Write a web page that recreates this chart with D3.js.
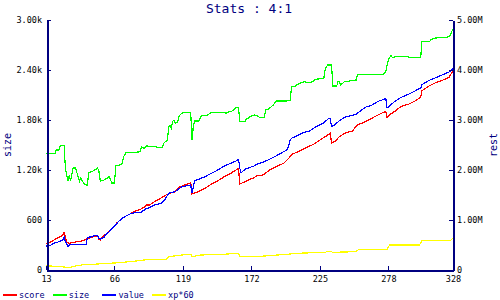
<!DOCTYPE html>
<html>
<head>
<meta charset="utf-8">
<script src="https://cdn.jsdelivr.net/npm/d3@7"></script>
<style>
body { margin: 0; background: #fff; }
text { font-family: "DejaVu Sans Mono", monospace; }
</style>
</head>
<body>
<svg id="chart" width="500" height="300"></svg>
<script>

var title = "Stats : 4:1";
var xTicks = [13, 66, 119, 172, 225, 278, 328];
var leftTicks = [0, 600, 1200, 1800, 2400, 3000];
var rightTicks = [0, 1e6, 2e6, 3e6, 4e6, 5e6];
var seriesNames = ["score", "size", "value", "xp*60"];
var seriesColors = ["#ff0000", "#00ff00", "#0000ff", "#ffff00"];

// size (left axis)
var sizePts = [[13,1400],[20,1400],[21,1440],[23,1440],[24,1492],[27,1492],[28,1224],[29,1140],[30,1068],[31,1140],[32,1068],[34,1224],[36,1224],[37,1164],[39,1068],[40,1104],[42,1044],[44,1020],[45,1020],[46,1168],[48,1180],[50,1192],[53,1224],[54,1180],[55,1068],[58,1080],[60,1100],[62,1120],[63,1080],[64,1044],[66,1044],[67,1248],[70,1260],[72,1280],[73,1360],[75,1408],[81,1408],[86,1420],[87,1480],[89,1460],[91,1488],[98,1480],[99,1468],[103,1468],[104,1520],[107,1560],[108,1720],[109,1740],[110,1700],[111,1780],[112,1800],[113,1760],[115,1780],[116,1848],[118,1880],[120,1892],[125,1892],[126,1560],[127,1720],[128,1788],[131,1788],[132,1808],[133,1848],[138,1860],[141,1892],[151,1892],[152,1880],[155,1900],[158,1912],[159,1940],[160,1948],[162,1948],[163,1780],[167,1780],[168,1808],[171,1840],[174,1860],[177,1848],[178,1832],[182,1832],[183,1928],[185,1928],[188,1968],[189,1980],[191,2028],[199,2028],[202,2040],[203,2200],[206,2208],[207,2220],[209,2240],[211,2248],[213,2260],[216,2248],[220,2260],[221,2288],[228,2300],[229,2400],[230,2440],[231,2460],[234,2460],[235,2208],[238,2208],[239,2260],[240,2260],[241,2220],[244,2260],[248,2268],[253,2280],[254,2344],[274,2344],[276,2384],[277,2464],[278,2524],[280,2576],[281,2552],[282,2552],[285,2564],[292,2564],[294,2552],[303,2552],[304,2744],[310,2744],[311,2764],[314,2784],[323,2792],[325,2804],[326,2824],[327,2864],[328,2884]];

// value, score, xp*60 (right axis)
var valuePts = [[13,480000],[17,500000],[19,534000],[23,566000],[26,600000],[27,666000],[28,566000],[29,520000],[30,466000],[31,500000],[35,514000],[44,514000],[45,654000],[49,666000],[51,700000],[53,680000],[54,634000],[55,614000],[58,654000],[59,700000],[62,766000],[64,834000],[67,900000],[69,966000],[72,1034000],[75,1080000],[78,1120000],[82,1146000],[86,1146000],[89,1200000],[91,1234000],[93,1246000],[97,1300000],[102,1334000],[105,1400000],[107,1500000],[109,1546000],[113,1566000],[118,1666000],[122,1686000],[125,1700000],[126,1534000],[128,1780000],[131,1814000],[136,1866000],[141,1934000],[146,2000000],[151,2080000],[156,2134000],[160,2180000],[162,2214000],[163,2034000],[164,1946000],[167,2014000],[171,2054000],[174,2080000],[176,2114000],[181,2154000],[186,2214000],[191,2280000],[197,2366000],[200,2414000],[202,2600000],[203,2634000],[207,2680000],[212,2746000],[217,2780000],[222,2866000],[228,2946000],[232,3034000],[233,3034000],[234,2866000],[237,2914000],[240,2986000],[244,3054000],[248,3080000],[253,3114000],[255,3154000],[260,3254000],[265,3294000],[270,3374000],[276,3426000],[277,3240000],[279,3286000],[283,3374000],[288,3454000],[294,3520000],[299,3586000],[303,3640000],[304,3706000],[309,3786000],[314,3840000],[319,3894000],[325,3960000],[327,4006000],[328,4030000]];

var scorePts = [[13,534000],[17,566000],[20,614000],[24,666000],[26,700000],[27,754000],[28,666000],[29,566000],[31,534000],[33,546000],[37,566000],[42,586000],[45,634000],[48,646000],[50,666000],[53,680000],[54,614000],[55,600000],[57,666000],[60,734000],[63,800000],[66,880000],[68,946000],[72,1034000],[75,1080000],[79,1134000],[82,1180000],[86,1214000],[89,1254000],[91,1300000],[93,1300000],[97,1366000],[103,1454000],[106,1500000],[109,1534000],[113,1566000],[116,1654000],[120,1700000],[124,1734000],[125,1746000],[126,1520000],[131,1566000],[136,1634000],[141,1720000],[146,1786000],[151,1866000],[156,1934000],[160,2000000],[162,2034000],[163,1720000],[167,1766000],[171,1814000],[174,1846000],[176,1880000],[181,1900000],[186,2000000],[191,2066000],[197,2134000],[200,2214000],[204,2320000],[210,2386000],[215,2454000],[220,2514000],[225,2600000],[230,2680000],[233,2734000],[234,2534000],[237,2580000],[240,2666000],[244,2734000],[248,2766000],[250,2774000],[252,2840000],[254,2906000],[258,2940000],[263,3006000],[268,3074000],[273,3140000],[276,3174000],[277,3040000],[279,3106000],[283,3174000],[288,3274000],[294,3320000],[299,3386000],[303,3454000],[304,3586000],[309,3674000],[314,3740000],[319,3786000],[325,3854000],[327,3940000],[328,3980000]];

var xpPts = [[13,80000],[22,76000],[28,56000],[31,52000],[37,86000],[42,106000],[50,114000],[58,130000],[66,140000],[75,160000],[83,180000],[89,200000],[92,214000],[106,214000],[108,266000],[118,300000],[125,314000],[126,266000],[133,300000],[151,314000],[160,334000],[162,334000],[163,266000],[174,266000],[182,280000],[200,314000],[207,334000],[229,354000],[232,380000],[235,354000],[253,366000],[255,414000],[277,414000],[279,500000],[302,500000],[304,586000],[326,586000],[328,640000]];

var margin = {top: 20, right: 47, bottom: 30, left: 46},
    width = 500 - margin.left - margin.right,
    height = 300 - margin.top - margin.bottom;

var navy = "#000080";

var x = d3.scaleLinear().domain([13, 328]).range([0, width]);
var yL = d3.scaleLinear().domain([0, 3000]).range([height, 0]);
var yR = d3.scaleLinear().domain([0, 5e6]).range([height, 0]);

var svg = d3.select("#chart");

svg.append("text")
    .attr("x", 249).attr("y", 13)
    .attr("text-anchor", "middle")
    .style("font-size", "13px")
    .attr("fill", navy)
    .text(title);

var g = svg.append("g")
    .attr("transform", "translate(" + margin.left + "," + margin.top + ")");

function fmtL(d) {
    if (d === 0) return "0";
    if (d < 1000) return d;
    return (d / 1000).toFixed(2) + "k";
}
function fmtR(d) {
    if (d === 0) return "0";
    return (d / 1e6).toFixed(2) + "M";
}

// lines first, axes on top
var lineL = d3.line().x(function(d) { return x(d[0]); }).y(function(d) { return yL(d[1]); });
var lineR = d3.line().x(function(d) { return x(d[0]); }).y(function(d) { return yR(d[1]); });

var series = [
    {pts: xpPts, line: lineR, color: seriesColors[3]},
    {pts: sizePts, line: lineL, color: seriesColors[1]},
    {pts: scorePts, line: lineR, color: seriesColors[0]},
    {pts: valuePts, line: lineR, color: seriesColors[2]}
];

series.forEach(function(s) {
    g.append("path")
        .datum(s.pts)
        .attr("fill", "none")
        .attr("stroke", s.color)
        .attr("stroke-width", 1.2)
        .attr("shape-rendering", "crispEdges")
        .attr("d", s.line);
});

function styleAxis(sel) {
    sel.select(".domain").attr("stroke", navy).attr("stroke-width", 2).attr("shape-rendering", "crispEdges");
    sel.selectAll(".tick line").attr("stroke", navy).attr("shape-rendering", "crispEdges");
    sel.selectAll(".tick text").attr("fill", "#000").style("font-size", "8.5px").attr("font-family", null);
}

g.append("g")
    .attr("transform", "translate(0," + height + ")")
    .call(d3.axisBottom(x).tickValues(xTicks).tickSizeInner(-4).tickSizeOuter(0).tickPadding(6))
    .call(styleAxis);

g.append("g")
    .attr("transform", "translate(1,0)")
    .call(d3.axisLeft(yL).tickValues(leftTicks).tickFormat(fmtL).tickSizeInner(-4).tickSizeOuter(0).tickPadding(5))
    .call(styleAxis);

g.append("g")
    .attr("transform", "translate(" + width + ",0)")
    .call(d3.axisRight(yR).tickValues(rightTicks).tickFormat(fmtR).tickSizeInner(-4).tickSizeOuter(0).tickPadding(4))
    .call(styleAxis);

svg.append("text")
    .attr("transform", "translate(11," + (margin.top + height / 2) + ") rotate(-90)")
    .attr("text-anchor", "middle")
    .attr("fill", navy)
    .style("font-size", "10px")
    .text("size");

svg.append("text")
    .attr("transform", "translate(497," + (margin.top + height / 2) + ") rotate(-90)")
    .attr("text-anchor", "middle")
    .attr("fill", navy)
    .style("font-size", "10px")
    .text("rest");

// legend
var legend = svg.append("g").attr("transform", "translate(3,295)");
seriesNames.forEach(function(name, i) {
    var item = legend.append("g").attr("transform", "translate(" + (i * 49.7) + ",0)");
    item.append("line")
        .attr("x1", 0).attr("x2", 14)
        .attr("stroke", seriesColors[i])
        .attr("stroke-width", 2.5)
        .attr("shape-rendering", "crispEdges");
    item.append("text")
        .attr("x", 16).attr("y", 3)
        .attr("fill", navy)
        .style("font-size", "8.5px")
        .text(name);
});
</script>
</body>
</html>
